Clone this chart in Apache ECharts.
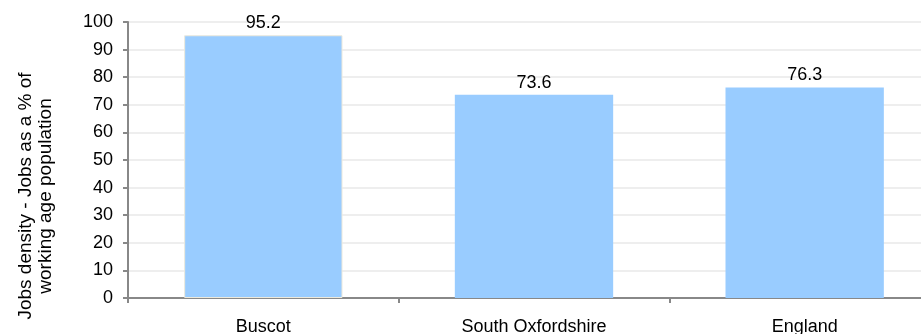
<!DOCTYPE html>
<html><head><meta charset="utf-8">
<script src="https://cdn.jsdelivr.net/npm/echarts@6/dist/echarts.min.js"></script>
<style>html,body{margin:0;padding:0;background:#fff;overflow:hidden}#c{width:940px;height:334px}</style>
</head><body><div id="c"></div>
<script>
const categories = ['Buscot', 'South Oxfordshire', 'England'];
const values = [95.2, 73.6, 76.3];
const yTicks = [0, 10, 20, 30, 40, 50, 60, 70, 80, 90, 100];
const yTitle = 'Jobs density - Jobs as a % of\nworking age population';

const chart = echarts.init(document.getElementById('c'));
const font = 'Liberation Sans, Arial, sans-serif';
chart.setOption({
  animation: false,
  grid: { left: 128, top: 22, right: 0, bottom: 36, outerBoundsMode: 'none', containLabel: false },
  graphic: [{
    type: 'text', x: 36, y: 196, rotation: Math.PI / 2,
    style: { text: yTitle, fill: '#000', font: '19px ' + font, align: 'center', verticalAlign: 'middle', lineHeight: 19.5 }
  }],
  xAxis: {
    type: 'category', data: categories,
    axisLine: { lineStyle: { color: '#888', width: 2 } },
    axisTick: { show: true, length: 5, lineStyle: { color: '#888', width: 2 } },
    axisLabel: { color: '#000', fontSize: 18, fontFamily: font, margin: 20 }
  },
  yAxis: {
    type: 'value', min: yTicks[0], max: yTicks[yTicks.length - 1], interval: 10,
    axisLine: { show: true, lineStyle: { color: '#888', width: 2 } },
    axisTick: { show: true, length: 5, lineStyle: { color: '#888', width: 2 } },
    axisLabel: { color: '#000', fontSize: 18, fontFamily: font, margin: 15 },
    splitLine: { show: true, lineStyle: { color: '#eeeeee', width: 2 } }
  },
  series: [{
    type: 'bar', data: values.map((v, i) => i === 0 ? { value: v, itemStyle: { borderColor: '#ece9dc', borderWidth: 1 } } : v),
    barWidth: '58.5%',
    itemStyle: { color: '#99ccff' },
    label: { show: true, position: 'top', color: '#000', fontSize: 18, fontFamily: font, distance: 3 }
  }]
});
</script></body></html>
